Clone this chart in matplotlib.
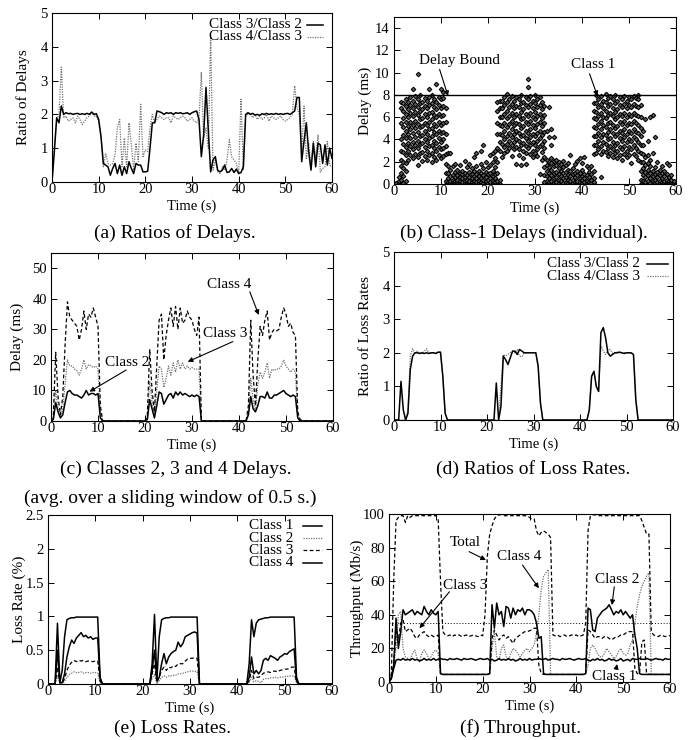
import numpy as np
import matplotlib.pyplot as plt

plt.rcParams['font.family'] = 'Liberation Serif'
plt.rcParams['font.size'] = 11

# common time grid: one sample every 0.5 s
t = np.arange(0, 60.5, 0.5)

# ---------------- (a) ratios of delays ----------------
ratio_d32 = [0, 0.9, 1.9, 1.75, 2.25, 2.0, 2.05, 2.02, 2.03, 2.0,
             2.02, 2.03, 2.0, 2.02, 2.0, 2.03, 2.0, 2.07, 2.0, 2.02,
             1.85, 1.35, 0.55, 0.5, 0.45, 0.2, 0.4, 0.55, 0.25, 0.5,
             0.2, 0.45, 0.25, 0.6, 0.4, 0.25, 0.55, 0.5, 0.5, 0.3,
             0.3, 0.32, 1.0, 1.75, 1.75, 2.1, 2.08, 2.05, 2.0, 2.05,
             2.03, 2.05, 2.0, 2.05, 2.03, 2.05, 2.02, 2.03, 2.05, 2.0,
             2.05, 2.08, 2.1, 1.85, 0.75, 1.4, 2.8, 1.5, 0.3, 0.65,
             0.75, 0.35, 0.3, 0.35, 0.5, 0.28, 0.3, 0.4, 0.28, 0.38,
             0.25, 0.28, 0.45, 2.0, 2.05, 2.0, 2.03, 1.98, 2.0, 1.97,
             2.02, 2.0, 2.03, 2.0, 2.02, 2.0, 2.03, 2.0, 2.02, 2.0,
             2.02, 2.03, 2.0, 2.05, 2.1, 2.5, 2.5, 0.6, 1.2, 1.75,
             0.9, 0.35, 1.15, 0.45, 1.15, 1.1, 0.55, 1.1, 0.5, 1.0,
             0.7]
ratio_d43 = [0, 1.0, 1.8, 2.0, 3.4, 1.9, 1.95, 1.8, 1.85, 1.9,
             1.75, 1.95, 1.85, 1.7, 1.8, 1.9, 1.95, 2.05, 1.95, 1.95,
             1.8, 1.3, 0.45, 0.85, 0.55, 0.5, 0.55, 0.8, 1.6, 1.85,
             0.45, 1.3, 0.45, 1.75, 1.1, 0.35, 1.15, 0.6, 2.3, 0.75,
             0.95, 0.9, 1.6, 2.0, 1.75, 1.85, 1.95, 1.9, 1.85, 1.9,
             1.9, 1.75, 1.95, 1.9, 1.85, 1.9, 1.95, 1.9, 1.8, 1.85,
             1.9, 1.8, 1.75, 1.9, 3.25, 1.3, 1.6, 1.0, 4.3, 0.35,
             0.65, 0.3, 0.25, 0.45, 0.35, 0.65, 1.25, 0.75, 0.65, 0.55,
             0.25, 2.45, 0.35, 1.95, 2.0, 2.05, 1.9, 2.0, 1.85, 1.95,
             1.85, 1.9, 2.0, 1.8, 1.95, 1.9, 1.85, 1.9, 1.95, 1.85,
             1.8, 1.85, 1.9, 2.0, 2.85, 2.2, 2.0, 0.8, 2.25, 0.7,
             1.15, 0.45, 1.2, 0.7, 1.4, 0.3, 0.4, 0.45, 1.2, 0.5,
             0.45]

# ---------------- (b) class-1 individual delays (one column per 0.5 s) ----------------
c1_delays = [
    [0.0], [0.0, 0.1], [0.0, 0.1, 0.3, 0.6],
    [0.0, 0.4, 1.0, 1.6, 2.2, 3.0, 4.0, 5.5, 6.8, 7.4],
    [0.1, 0.7, 1.4, 2.0, 2.9, 3.6, 4.4, 5.1, 5.9, 6.6, 7.3],
    [0.3, 1.2, 1.9, 2.6, 3.3, 4.1, 4.8, 5.6, 6.3, 7.0, 7.6],
    [2.2, 3.0, 3.7, 4.5, 5.2, 6.0, 6.7, 7.4],
    [2.6, 3.4, 4.1, 4.9, 5.6, 6.4, 7.1, 7.8],
    [2.3, 3.1, 3.8, 4.6, 5.3, 6.1, 6.8, 7.5, 8.5],
    [2.7, 3.5, 4.2, 5.0, 5.7, 6.5, 7.2, 7.9],
    [1.7, 2.4, 3.2, 3.9, 4.7, 5.4, 6.2, 6.9, 7.6, 9.9],
    [2.8, 3.6, 4.3, 5.1, 5.8, 6.6, 7.3, 8.0],
    [2.1, 2.9, 3.7, 4.4, 5.2, 5.9, 6.7, 7.4],
    [2.5, 3.3, 4.0, 4.8, 5.5, 6.3, 7.0, 7.7],
    [2.2, 3.0, 3.8, 4.5, 5.3, 6.0, 6.8, 7.5],
    [2.6, 3.4, 4.1, 4.9, 5.6, 6.4, 7.1, 7.8, 8.5],
    [2.0, 2.8, 3.5, 4.3, 5.0, 5.8, 6.5, 7.3, 8.0],
    [2.4, 3.2, 3.9, 4.7, 5.4, 6.2, 6.9, 7.6],
    [2.2, 3.0, 3.7, 4.5, 5.2, 6.0, 6.7, 7.4, 9.0],
    [2.6, 3.3, 4.1, 4.8, 5.6, 6.3, 7.1, 7.8],
    [2.3, 3.1, 3.8, 4.6, 5.3, 6.1, 6.8, 7.6, 8.5],
    [2.5, 3.2, 4.0, 4.7, 5.5, 6.2, 7.0, 7.7, 8.3],
    [0.0, 0.3, 1.0, 1.8, 2.7, 3.4, 4.5, 5.6, 6.8],
    [0.0, 0.2, 0.5, 1.0, 1.6, 2.8],
    [0.0, 0.1, 0.3, 0.7, 1.3, 2.8],
    [0.0, 0.2, 0.4, 0.8, 1.6],
    [0.0, 0.1, 0.3, 0.6, 1.1, 1.8],
    [0.0, 0.2, 0.4, 0.8, 1.3],
    [0.0, 0.1, 0.3, 0.6, 1.0, 1.7],
    [0.0, 0.2, 0.5, 0.9, 1.2],
    [0.0, 0.1, 0.3, 0.6, 1.0, 2.1],
    [0.0, 0.2, 0.4, 0.8, 1.5],
    [0.0, 0.1, 0.3, 0.6, 1.1, 1.8],
    [0.0, 0.2, 0.5, 0.9, 1.4],
    [0.0, 0.1, 0.3, 0.7, 1.2, 2.4],
    [0.0, 0.2, 0.5, 0.9, 1.6, 2.8],
    [0.0, 0.1, 0.3, 0.7, 1.2],
    [0.0, 0.2, 0.5, 1.0, 1.8, 3.0],
    [0.0, 0.1, 0.4, 0.8, 1.4, 3.5],
    [0.0, 0.2, 0.3, 0.6, 1.1, 2.0],
    [0.0, 0.1, 0.4, 0.9, 1.5],
    [0.0, 0.2, 0.5, 1.0, 1.7, 2.6],
    [0.0, 0.1, 0.3, 0.7, 1.2, 2.0, 2.8],
    [0.0, 0.2, 0.5, 0.9, 1.5, 2.3, 3.0],
    [0.0, 0.3, 1.0, 2.0, 3.2, 4.5, 5.5, 6.6, 7.4],
    [0.0, 0.4, 3.0, 3.8, 4.5, 5.3, 6.0, 6.8, 7.5],
    [2.4, 3.6, 4.4, 5.2, 6.0, 6.8, 7.5],
    [2.8, 3.3, 4.0, 4.8, 5.5, 6.3, 7.1, 7.8],
    [3.0, 3.6, 4.3, 5.1, 5.9, 6.6, 7.4, 8.1],
    [3.2, 3.9, 4.6, 5.4, 6.1, 6.9, 7.6],
    [2.5, 3.5, 4.2, 4.9, 5.7, 6.4, 7.2, 7.9],
    [3.1, 3.8, 4.5, 5.3, 6.0, 6.8, 7.5],
    [1.8, 3.3, 4.0, 4.8, 5.5, 6.3, 7.0, 7.8],
    [2.6, 3.1, 3.9, 4.6, 5.4, 6.1, 6.9, 7.6],
    [1.7, 3.5, 4.3, 5.0, 5.8, 6.5, 7.3, 8.0],
    [2.3, 3.0, 3.7, 4.4, 5.2, 5.9, 6.7, 7.4],
    [1.8, 2.8, 3.4, 4.1, 4.8, 5.6, 6.3, 7.1, 7.8],
    [3.2, 3.9, 4.6, 5.4, 6.1, 6.9, 7.6, 8.7, 9.4],
    [2.7, 3.5, 4.2, 4.9, 5.7, 6.4, 7.2, 7.9],
    [2.4, 3.0, 3.8, 4.5, 5.3, 6.0, 6.8, 7.5],
    [2.8, 3.5, 4.3, 5.0, 5.8, 6.5, 7.3, 8.0],
    [2.5, 3.1, 3.9, 4.6, 5.4, 6.1, 6.9, 7.6],
    [0.9, 3.4, 4.1, 4.8, 5.6, 6.3, 7.1, 7.8],
    [2.2, 2.9, 3.6, 4.4, 5.2, 5.9, 6.7, 7.4],
    [0.0, 0.2, 0.8, 1.5, 2.4, 3.2, 3.9, 4.7, 5.5, 6.2, 7.0],
    [0.0, 0.3, 0.7, 1.2, 1.7, 2.2, 4.8],
    [0.0, 0.2, 0.5, 1.0, 1.5, 2.0, 4.2, 6.9],
    [0.0, 0.3, 0.8, 1.3, 1.9, 2.3, 3.5, 4.9],
    [0.0, 0.1, 0.5, 1.0, 1.6, 2.1, 4.2],
    [0.0, 0.2, 0.6, 1.1, 1.7, 2.2],
    [0.0, 0.1, 0.4, 0.9, 1.4, 2.0],
    [0.0, 0.3, 0.7, 1.2, 1.8],
    [0.0, 0.1, 0.5, 1.0, 1.5, 2.1],
    [0.0, 0.2, 0.6, 1.1, 1.7],
    [0.0, 0.1, 0.4, 0.8, 1.3, 1.9],
    [0.0, 0.3, 0.7, 1.2, 2.6],
    [0.0, 0.1, 0.4, 0.9, 1.4],
    [0.0, 0.2, 0.6, 1.0, 1.8],
    [0.0, 0.1, 0.3, 0.8, 1.2, 2.1],
    [0.0, 0.2, 0.5, 1.0, 2.3],
    [0.0, 0.1, 0.4, 0.7, 1.3, 1.9],
    [0.0, 0.2, 0.5, 0.9, 2.4],
    [0.0, 0.1, 0.3, 0.8, 1.6],
    [0.0, 0.2, 0.6, 1.1, 1.4],
    [0.0, 0.1, 0.4, 0.9, 1.6],
    [0.0, 0.2, 0.5, 1.2, 2.7, 3.5, 4.3, 5.1, 5.9, 6.6, 7.3],
    [2.8, 3.5, 4.3, 5.0, 5.8, 6.5, 7.3, 8.0],
    [3.1, 3.9, 4.6, 5.4, 6.1, 6.9, 7.6],
    [0.6, 2.7, 3.4, 4.2, 4.9, 5.7, 6.4, 7.2, 7.9],
    [3.0, 3.8, 4.5, 5.3, 6.0, 6.8, 7.5],
    [2.9, 3.6, 4.4, 5.1, 5.9, 6.6, 7.4, 8.1],
    [2.5, 3.2, 4.0, 4.7, 5.5, 6.2, 7.0, 7.7],
    [2.8, 3.4, 4.1, 4.9, 5.6, 6.4, 7.2, 7.9],
    [2.4, 3.1, 3.8, 4.6, 5.3, 6.1, 6.8, 7.6],
    [2.8, 3.5, 4.3, 5.0, 5.8, 6.5, 7.3, 8.0],
    [2.3, 3.0, 3.7, 4.5, 5.2, 6.0, 6.7, 7.5],
    [2.6, 3.3, 4.1, 4.8, 5.6, 6.3, 7.1, 7.8],
    [2.2, 3.1, 3.9, 4.6, 5.4, 6.1, 6.9, 7.6],
    [2.7, 3.4, 4.2, 4.9, 5.7, 6.4, 7.2, 7.9],
    [2.4, 3.0, 3.8, 4.5, 5.3, 6.0, 6.8, 7.5],
    [2.6, 3.3, 4.0, 4.8, 5.5, 6.3, 7.1, 7.8],
    [1.9, 3.1, 3.9, 4.6, 5.4, 6.1, 6.9, 7.6],
    [2.7, 3.5, 4.2, 4.9, 5.7, 6.4, 7.2, 7.9],
    [2.5, 3.2, 4.0, 4.7, 5.5, 6.2, 7.0, 7.7],
    [2.2, 3.0, 3.8, 4.6, 5.3, 6.1, 6.9, 7.6, 8.0],
    [0.0, 0.4, 1.2, 2.0, 2.8, 3.5, 4.3, 5.0, 6.0, 7.1],
    [0.0, 0.3, 0.8, 1.4, 2.0, 2.7, 3.5, 4.8],
    [0.0, 0.2, 0.6, 1.1, 1.7, 2.4, 5.8],
    [0.0, 0.3, 0.8, 1.3, 1.9, 2.6, 3.9],
    [0.0, 0.1, 0.5, 1.0, 1.6, 2.2, 6.0],
    [0.0, 0.3, 0.7, 1.2, 2.8, 6.2],
    [0.0, 0.1, 0.4, 0.9, 1.5, 4.2],
    [0.0, 0.2, 0.6, 1.1, 2.0],
    [0.0, 0.1, 0.3, 0.8, 1.3],
    [0.0, 0.2, 0.5, 1.0, 1.6],
    [0.0, 0.1, 0.3, 0.7, 1.2],
    [0.0, 0.2, 0.4, 0.9, 1.9],
    [0.0, 0.1, 0.3, 0.6, 1.7],
    [0.0, 0.2, 0.4, 0.8],
    [0.0, 0.1, 0.3],
    [0.0],
]
delay_bound = 8

# ---------------- (c) delays of classes 2, 3, 4 ----------------
delay_c4 = [0, 2, 22.5, 8, 2, 8, 25, 39, 34, 33,
            32, 31, 26.5, 30, 36, 30, 35, 34, 37, 34,
            31, 5, 0, 0, 0, 0, 0, 0, 0, 0,
            0, 0, 0, 0, 0, 0, 0, 0, 0, 0,
            0, 2, 23.5, 10, 3, 18, 33, 35, 20, 28,
            33, 37, 31, 37.5, 30, 37, 32, 33, 36, 34,
            33, 30, 28, 34, 0, 0, 0, 0, 0, 0,
            0, 0, 0, 0, 0, 0, 0, 0, 0, 0,
            0, 0, 0, 0, 5, 33, 15, 5, 20, 31,
            28, 33, 36, 26.5, 29, 30, 29.5, 30, 34, 37,
            35, 31, 32, 29, 28, 3, 0.5, 0, 0, 0,
            0, 0, 0, 0, 0, 0, 0, 0, 0, 0,
            0]
delay_c3 = [0, 1, 10, 4, 1.5, 4, 12, 20, 18, 18,
            17, 16.5, 15, 17, 20, 17, 18.5, 18, 17.5, 18,
            17, 3, 0, 0, 0, 0, 0, 0, 0, 0,
            0, 0, 0, 0, 0, 0, 0, 0, 0, 0,
            0, 1, 13, 6, 2, 10, 18, 17, 11, 14,
            18, 15, 19, 16, 20, 17, 19, 17, 18, 17,
            17.5, 17, 17, 17, 0, 0, 0, 0, 0, 0,
            0, 0, 0, 0, 0, 0, 0, 0, 0, 0,
            0, 0, 0, 0, 3, 14, 7, 3, 12, 16,
            14, 16, 19, 14, 17, 16.5, 17, 17, 18, 20,
            18, 17, 16, 17, 16, 2, 0.5, 0, 0, 0,
            0, 0, 0, 0, 0, 0, 0, 0, 0, 0,
            0]
delay_c2 = [0, 0.5, 6, 3, 1, 2, 6, 9.5, 10, 9,
            8.5, 8.5, 8, 7.5, 8.5, 10, 8.5, 9, 9, 8.5,
            9, 1, 0, 0, 0, 0, 0, 0, 0, 0,
            0, 0, 0, 0, 0, 0, 0, 0, 0, 0,
            0, 0.5, 7, 4, 1, 5, 9.5, 9, 5.5, 7,
            8.5, 9, 7.5, 9.5, 8.5, 9.5, 8.5, 9, 8.5, 8,
            8.5, 8, 8.5, 8, 0, 0, 0, 0, 0, 0,
            0, 0, 0, 0, 0, 0, 0, 0, 0, 0,
            0, 0, 0, 0, 2, 8, 4, 3, 5, 8,
            8, 7.5, 9.5, 7.5, 7.5, 8.5, 8.5, 9, 9.5, 10,
            9, 8.5, 8, 8.5, 8, 1, 0, 0, 0, 0,
            0, 0, 0, 0, 0, 0, 0, 0, 0, 0,
            0]

# ---------------- (d) ratios of loss rates ----------------
ratio_l32 = [0, 0, 0, 1.15, 0.3, 0, 0.2, 1.5, 1.9, 2.0,
             2.0, 1.98, 2.0, 1.98, 2.0, 1.98, 2.0, 2.0, 1.98, 2.02,
             2.02, 1.3, 0.2, 0, 0, 0, 0, 0, 0, 0,
             0, 0, 0, 0, 0, 0, 0, 0, 0, 0,
             0, 0, 0, 0, 1.1, 0, 0.4, 1.9, 1.8, 1.65,
             1.85, 2.05, 2.05, 1.95, 2.1, 2.05, 2.0, 2.0, 2.0, 2.0,
             2.0, 2.0, 1.6, 0.5, 0, 0, 0, 0, 0, 0,
             0, 0, 0, 0, 0, 0, 0, 0, 0, 0,
             0, 0, 0, 0, 0.3, 1.3, 1.45, 1.0, 0.85, 2.6,
             2.75, 2.45, 2.0, 1.9, 1.95, 2.0, 2.0, 2.02, 2.0, 1.98,
             2.0, 2.0, 2.0, 1.95, 0.6, 0, 0, 0, 0, 0,
             0, 0, 0, 0, 0, 0, 0, 0, 0, 0,
             0]
ratio_l43 = [0, 0, 0, 0, 0, 0, 0.3, 1.9, 2.12, 2.0,
             2.05, 2.0, 1.98, 2.05, 2.12, 2.0, 2.0, 1.98, 2.0, 2.02,
             2.0, 1.3, 0.2, 0, 0, 0, 0, 0, 0, 0,
             0, 0, 0, 0, 0, 0, 0, 0, 0, 0,
             0, 0, 0, 0, 0, 0, 1.0, 1.95, 1.9, 1.95,
             2.0, 2.05, 2.0, 2.1, 1.9, 1.88, 2.0, 2.0, 2.0, 2.0,
             2.0, 2.0, 1.6, 0.5, 0, 0, 0, 0, 0, 0,
             0, 0, 0, 0, 0, 0, 0, 0, 0, 0,
             0, 0, 0, 0, 0.3, 1.3, 1.45, 1.0, 0.85, 2.2,
             2.05, 1.95, 2.1, 2.1, 1.98, 2.0, 2.02, 2.0, 2.0, 2.0,
             2.0, 2.0, 2.0, 1.95, 0.6, 0, 0, 0, 0, 0,
             0, 0, 0, 0, 0, 0, 0, 0, 0, 0,
             0]

# ---------------- (e) loss rates (%) ----------------
loss_c1 = [0, 0, 0, 0, 0.9, 0.02, 0.2, 0.7, 0.95, 0.97,
           0.98, 0.98, 0.99, 0.99, 0.99, 0.99, 0.99, 0.99, 0.99, 0.99,
           0.99, 0.99, 0.1, 0, 0, 0, 0, 0, 0, 0,
           0, 0, 0, 0, 0, 0, 0, 0, 0, 0,
           0, 0, 0, 0, 0.3, 1.03, 0.05, 0.7, 0.95, 0.97,
           0.98, 0.98, 0.99, 0.99, 0.99, 0.99, 0.99, 0.99, 0.99, 0.99,
           0.99, 0.99, 0.99, 0.99, 0, 0, 0, 0, 0, 0,
           0, 0, 0, 0, 0, 0, 0, 0, 0, 0,
           0, 0, 0, 0, 0, 0.3, 0.95, 0.7, 0.9, 0.95,
           0.96, 0.97, 0.98, 0.98, 0.99, 0.99, 0.99, 0.99, 0.99, 0.99,
           0.99, 0.99, 0.99, 0.99, 0.99, 0.1, 0, 0, 0, 0,
           0, 0, 0, 0, 0, 0, 0, 0, 0, 0,
           0]
loss_c2 = [0, 0, 0, 0, 0.12, 0.01, 0, 0.04, 0.1, 0.14,
           0.16, 0.18, 0.17, 0.17, 0.18, 0.16, 0.17, 0.17, 0.16, 0.17,
           0.17, 0.16, 0.02, 0, 0, 0, 0, 0, 0, 0,
           0, 0, 0, 0, 0, 0, 0, 0, 0, 0,
           0, 0, 0, 0, 0.08, 0.15, 0, 0.05, 0.1, 0.12,
           0.1, 0.12, 0.12, 0.13, 0.13, 0.15, 0.15, 0.16, 0.17, 0.18,
           0.19, 0.19, 0.19, 0.18, 0, 0, 0, 0, 0, 0,
           0, 0, 0, 0, 0, 0, 0, 0, 0, 0,
           0, 0, 0, 0, 0, 0.02, 0.1, 0.03, 0.05, 0.04,
           0.02, 0.07, 0.08, 0.08, 0.09, 0.09, 0.1, 0.09, 0.1, 0.1,
           0.11, 0.11, 0.12, 0.12, 0.12, 0.02, 0, 0, 0, 0,
           0, 0, 0, 0, 0, 0, 0, 0, 0, 0,
           0]
loss_c3 = [0, 0, 0, 0, 0.25, 0.02, 0.01, 0.08, 0.2, 0.28,
           0.32, 0.35, 0.33, 0.35, 0.34, 0.35, 0.33, 0.34, 0.34, 0.33,
           0.34, 0.34, 0.04, 0, 0, 0, 0, 0, 0, 0,
           0, 0, 0, 0, 0, 0, 0, 0, 0, 0,
           0, 0, 0, 0, 0.15, 0.3, 0.02, 0.1, 0.2, 0.25,
           0.2, 0.25, 0.24, 0.27, 0.26, 0.3, 0.3, 0.3, 0.34, 0.37,
           0.38, 0.38, 0.39, 0.38, 0, 0, 0, 0, 0, 0,
           0, 0, 0, 0, 0, 0, 0, 0, 0, 0,
           0, 0, 0, 0, 0, 0.05, 0.2, 0.08, 0.1, 0.1,
           0.12, 0.16, 0.17, 0.18, 0.17, 0.19, 0.19, 0.18, 0.2, 0.21,
           0.22, 0.22, 0.23, 0.25, 0.25, 0.03, 0, 0, 0, 0,
           0, 0, 0, 0, 0, 0, 0, 0, 0, 0,
           0]
loss_c4 = [0, 0, 0, 0, 0.5, 0.02, 0.02, 0.15, 0.4, 0.55,
           0.65, 0.6, 0.68, 0.72, 0.76, 0.7, 0.72, 0.68, 0.7, 0.66,
           0.68, 0.68, 0.08, 0, 0, 0, 0, 0, 0, 0,
           0, 0, 0, 0, 0, 0, 0, 0, 0, 0,
           0, 0, 0, 0, 0.2, 0.5, 0.05, 0.1, 0.3, 0.45,
           0.3, 0.4, 0.45, 0.48, 0.5, 0.62, 0.55, 0.6, 0.7, 0.72,
           0.74, 0.76, 0.77, 0.75, 0, 0, 0, 0, 0, 0,
           0, 0, 0, 0, 0, 0, 0, 0, 0, 0,
           0, 0, 0, 0, 0, 0.1, 0.4, 0.15, 0.2, 0.15,
           0.2, 0.35, 0.38, 0.35, 0.42, 0.4, 0.38, 0.35, 0.4, 0.42,
           0.45, 0.44, 0.48, 0.5, 0.52, 0.05, 0, 0, 0, 0,
           0, 0, 0, 0, 0, 0, 0, 0, 0, 0,
           0]

# ---------------- (f) throughput (Mb/s) ----------------
thr_total = [0, 5, 60, 96, 98, 99, 99, 95, 99, 98,
             99, 99, 99, 99, 99, 99, 99, 99, 99, 99,
             99, 97, 60, 30, 28, 27.5, 28, 27, 28, 27.5,
             28, 27, 27.5, 28, 27, 27.5, 28, 27.5, 27, 28,
             27.5, 40, 75, 88, 93, 97, 99, 99.5, 99.5, 99,
             99, 99, 99, 99, 99, 99, 99, 99, 99, 99,
             98, 97, 97, 90, 87, 89, 90, 89, 88, 86,
             28, 27.5, 28, 27, 27.5, 28, 27, 27.5, 28, 27.5,
             28, 27, 27.5, 28, 35, 90, 99, 99.5, 99.5, 99,
             99, 99, 99, 99, 99, 99, 99, 99, 99, 99,
             99, 99, 99, 99, 99, 99, 99, 99, 96, 92,
             88, 88, 30, 28, 27.5, 27, 28, 27.5, 27, 27.5,
             27.5]
thr_c1 = [0, 2, 8, 13, 13.5, 13, 14, 13, 13.5, 13,
          14, 13, 13.5, 12.5, 13, 14, 13, 13.5, 13, 14,
          13, 13.5, 14, 13.5, 13.5, 13, 14, 13.5, 13.5, 14,
          13.5, 13, 14, 13.5, 13.5, 14, 13.5, 13, 13.5, 14,
          13.5, 13.5, 14, 13, 13.5, 12.5, 13, 14, 13, 13.5,
          13, 14, 13, 13.5, 12.5, 13, 14, 13, 13.5, 13,
          14, 13, 13.5, 13.5, 14, 13.5, 13.5, 14, 13, 13.5,
          14, 13.5, 13.5, 13, 14, 13.5, 13.5, 14, 13.5, 13,
          13.5, 14, 13.5, 13.5, 14, 13, 12.5, 13.5, 13, 14,
          13, 13.5, 12.5, 13, 14, 13, 13.5, 12.5, 13, 14,
          12.5, 13, 13.5, 12.5, 14, 13.5, 13.5, 14, 13.5, 13.5,
          14, 13.5, 13, 13.5, 14, 13.5, 13.5, 13, 14, 13.5,
          13.5]
thr_c2 = [0, 3, 10, 38, 20, 30, 43, 40, 41, 42,
          43, 40, 42, 41, 40, 45, 42, 40, 43, 41,
          40, 42, 5, 4.5, 4.5, 4.5, 4.5, 4.5, 4.5, 4.5,
          4.5, 4.5, 4.5, 4.5, 4.5, 4.5, 4.5, 4.5, 4.5, 4.5,
          4.5, 4.5, 4.5, 5, 46, 32, 47, 40, 42, 33,
          45, 44, 38, 44, 40, 43, 42, 44, 40, 43,
          43, 42, 40, 35, 26, 27, 5, 4.5, 4.5, 4.5,
          4.5, 4.5, 4.5, 4.5, 4.5, 4.5, 4.5, 4.5, 4.5, 4.5,
          4.5, 4.5, 4.5, 4.5, 5, 44, 43, 31, 30, 38,
          40, 42, 43, 44, 46, 43, 40, 42, 41, 43,
          40, 42, 40, 38, 40, 28, 20, 5, 4.5, 4.5,
          4.5, 4.5, 4.5, 4.5, 4.5, 4.5, 4.5, 4.5, 4.5, 4.5,
          4.5]
thr_c3 = [0, 2, 10, 30, 25, 35, 37, 30, 31, 32,
          30, 27, 26, 28, 29, 30, 28, 27, 28, 27,
          27, 28, 5, 4.5, 4.5, 4.5, 4.5, 4.5, 4.5, 4.5,
          4.5, 4.5, 4.5, 4.5, 4.5, 4.5, 4.5, 4.5, 4.5, 4.5,
          4.5, 4.5, 4.5, 5, 26, 31, 28, 25, 27, 28,
          26, 27, 25, 23, 26, 27, 28, 29, 30, 30,
          30.5, 31, 32, 32, 10, 5, 4.5, 4.5, 4.5, 4.5,
          4.5, 4.5, 4.5, 4.5, 4.5, 4.5, 4.5, 4.5, 4.5, 4.5,
          4.5, 4.5, 4.5, 4.5, 5, 31, 30, 28, 26, 27,
          27, 26, 27, 27, 26, 25, 26, 27, 27, 28,
          28, 29, 30, 30, 30, 8, 5, 5, 24, 25,
          5, 4.5, 4.5, 4.5, 4.5, 4.5, 4.5, 4.5, 4.5, 4.5,
          4.5]
thr_c4 = [0, 2, 10, 20, 40, 42, 20, 15, 14, 13,
          17, 19, 14, 12, 17, 19, 17, 14, 15, 18,
          19, 17, 5, 4.5, 4.5, 4.5, 4.5, 4.5, 4.5, 4.5,
          4.5, 4.5, 4.5, 4.5, 4.5, 4.5, 4.5, 4.5, 4.5, 4.5,
          4.5, 4.5, 4.5, 5, 20, 30, 15, 13, 20, 22,
          15, 13, 17, 20, 19, 17, 15, 17, 19, 20,
          18, 20, 22, 30, 40, 55, 63, 65, 67, 5,
          4.5, 4.5, 4.5, 4.5, 4.5, 4.5, 4.5, 4.5, 4.5, 4.5,
          4.5, 4.5, 4.5, 4.5, 5, 10, 20, 22, 20, 17,
          15, 15, 17, 20, 18, 16, 14, 15, 18, 20,
          17, 16, 17, 22, 25, 35, 45, 52, 57, 60,
          63, 65, 5, 4.5, 4.5, 4.5, 4.5, 4.5, 4.5, 4.5,
          4.5]
thr_reference = 35

# ---------------- drawing ----------------
W, H = 697, 740
fig = plt.figure(figsize=(W / 100, H / 100), dpi=100)

SOLID = dict(color='k', lw=1.1)
DOTTED = dict(color='0.45', lw=0.9, ls=(0, (1, 1)))
DASHED = dict(color='k', lw=0.9, ls=(0, (3, 2)))
ARROW = dict(arrowstyle='-|>', color='k', lw=0.8, mutation_scale=7, shrinkA=0, shrinkB=0)


def add_ax(l, tp, r, b):
    return fig.add_axes([l / W, 1 - b / H, (r - l) / W, (b - tp) / H])


def frame(ax, ymax, yticks, ylabel, ylab_x, ytl=None):
    ax.set_xlim(0, 60)
    ax.set_ylim(0, ymax)
    ax.set_xticks([0, 10, 20, 30, 40, 50, 60])
    ax.set_yticks(yticks)
    if ytl is not None:
        ax.set_yticklabels(ytl)
    ax.tick_params(direction='in', top=True, right=True, length=4, width=0.7,
                   labelsize=10.5, pad=0.8)
    ax.tick_params(axis='y', pad=3)
    for s in ax.spines.values():
        s.set_linewidth(0.8)
    ax.set_xlabel('Time (s)', fontsize=10.5)
    ax.xaxis.set_label_coords(0.5, -0.106)
    ax.set_ylabel(ylabel, fontsize=11)
    ax.yaxis.set_label_coords(ylab_x, 0.5)


def key(ax, xt, x0, x1, y, label, style):
    # gnuplot-like key entry: label right aligned, sample line after it
    ax.text(xt, y, label, transform=ax.transAxes, ha='right', va='center', fontsize=11)
    ax.plot([x0, x1], [y, y], transform=ax.transAxes, clip_on=False, **style)


# (a)
ax = add_ax(52, 13, 332, 182)
ax.plot(t, ratio_d43, **DOTTED)
ax.plot(t, ratio_d32, **SOLID)
frame(ax, 5, [0, 1, 2, 3, 4, 5], 'Ratio of Delays', -0.08)
key(ax, 0.893, 0.911, 0.968, 0.929, 'Class 3/Class 2', SOLID)
key(ax, 0.893, 0.911, 0.968, 0.860, 'Class 4/Class 3', DOTTED)

# (b)
ax = add_ax(394, 17, 676, 184)
b_t, b_d = [], []
for tc, ds in zip(t, c1_delays):
    b_t += [tc] * len(ds)
    b_d += ds
ax.plot(b_t, b_d, ls='none', marker='D', ms=2.3, mfc='0.4', mec='k', mew=0.8)
ax.axhline(delay_bound, color='k', lw=1.0)
frame(ax, 15, [0, 2, 4, 6, 8, 10, 12, 14], 'Delay (ms)', -0.077)
ax.text(13.9, 11.05, 'Delay Bound', ha='center', va='center', fontsize=11)
ax.annotate('', xy=(11.5, 7.9), xytext=(9.7, 10.3), arrowprops=ARROW)
ax.text(42.3, 10.7, 'Class 1', ha='center', va='center', fontsize=11)
ax.annotate('', xy=(43.3, 7.9), xytext=(41.6, 9.9), arrowprops=ARROW)

# (c)
ax = add_ax(51, 253, 333, 421)
ax.plot(t, delay_c3, **DOTTED)
ax.plot(t, delay_c4, **DASHED)
ax.plot(t, delay_c2, **SOLID)
frame(ax, 55, [0, 10, 20, 30, 40, 50], 'Delay (ms)', -0.095)
ax.text(38.0, 44.8, 'Class 4', ha='center', va='center', fontsize=11)
ax.annotate('', xy=(44.2, 34.7), xytext=(42.3, 42.3), arrowprops=ARROW)
ax.text(37.1, 28.5, 'Class 3', ha='center', va='center', fontsize=11)
ax.annotate('', xy=(29.1, 19.4), xytext=(38.7, 26.0), arrowprops=ARROW)
ax.text(16.2, 19.1, 'Class 2', ha='center', va='center', fontsize=11)
ax.annotate('', xy=(8.2, 9.6), xytext=(16.0, 16.7), arrowprops=ARROW)

# (d)
ax = add_ax(394, 252, 673, 420)
ax.plot(t, ratio_l43, **DOTTED)
ax.plot(t, ratio_l32, **SOLID)
frame(ax, 5, [0, 1, 2, 3, 4, 5], 'Ratio of Loss Rates', -0.078)
key(ax, 0.882, 0.907, 0.982, 0.929, 'Class 3/Class 2', SOLID)
key(ax, 0.882, 0.907, 0.982, 0.857, 'Class 4/Class 3', DOTTED)

# (e)
ax = add_ax(48, 515, 332, 684)
ax.plot(t, loss_c2, **DOTTED)
ax.plot(t, loss_c3, **DASHED)
ax.plot(t, loss_c4, **SOLID)
ax.plot(t, loss_c1, **SOLID)
frame(ax, 2.5, [0, 0.5, 1, 1.5, 2, 2.5], 'Loss Rate (%)', -0.077,
      ['0', '0.5', '1', '1.5', '2', '2.5'])
key(ax, 0.863, 0.898, 0.965, 0.935, 'Class 1', SOLID)
key(ax, 0.863, 0.898, 0.965, 0.862, 'Class 2', DOTTED)
key(ax, 0.863, 0.898, 0.965, 0.790, 'Class 3', DASHED)
key(ax, 0.863, 0.898, 0.965, 0.718, 'Class 4', SOLID)

# (f)
ax = add_ax(389, 514, 670, 682)
ax.axhline(thr_reference, color='k', lw=0.7, ls=(0, (1, 2)))
ax.plot(t, thr_c4, **DOTTED)
ax.plot(t, thr_c3, **DASHED)
ax.plot(t, thr_total, **DASHED)
ax.plot(t, thr_c1, **SOLID)
ax.plot(t, thr_c2, **SOLID)
frame(ax, 100, [0, 20, 40, 60, 80, 100], 'Throughput (Mb/s)', -0.088)
ax.text(16.2, 83, 'Total', ha='center', va='center', fontsize=11)
ax.annotate('', xy=(20.7, 72.6), xytext=(17.1, 77.6), arrowprops=ARROW)
ax.text(27.7, 75, 'Class 4', ha='center', va='center', fontsize=11)
ax.annotate('', xy=(32.0, 55.8), xytext=(28.5, 69.6), arrowprops=ARROW)
ax.text(16.2, 57.7, 'Class 3', ha='center', va='center', fontsize=11)
ax.annotate('', xy=(6.5, 32), xytext=(12.9, 53.7), arrowprops=ARROW)
ax.text(48.7, 61.3, 'Class 2', ha='center', va='center', fontsize=11)
ax.annotate('', xy=(47.6, 45.8), xytext=(48.1, 56.7), arrowprops=ARROW)
ax.text(48.0, 3.3, 'Class 1', ha='center', va='center', fontsize=11)
ax.annotate('', xy=(48.7, 10.7), xytext=(48.5, 7.7), arrowprops=ARROW)

# captions
cap = dict(ha='center', va='center', fontsize=14)
fig.text(175 / W, 1 - 233 / H, '(a) Ratios of Delays.', **cap)
fig.text(524 / W, 1 - 233 / H, '(b) Class-1 Delays (individual).', **cap)
fig.text(176 / W, 1 - 469 / H, '(c) Classes 2, 3 and 4 Delays.', **cap)
fig.text(533 / W, 1 - 469 / H, '(d) Ratios of Loss Rates.', **cap)
fig.text(170 / W, 1 - 498 / H, '(avg. over a sliding window of 0.5 s.)', **cap)
fig.text(173 / W, 1 - 728 / H, '(e) Loss Rates.', **cap)
fig.text(520 / W, 1 - 728 / H, '(f) Throughput.', **cap)

fig.savefig('out.png', dpi=100)
